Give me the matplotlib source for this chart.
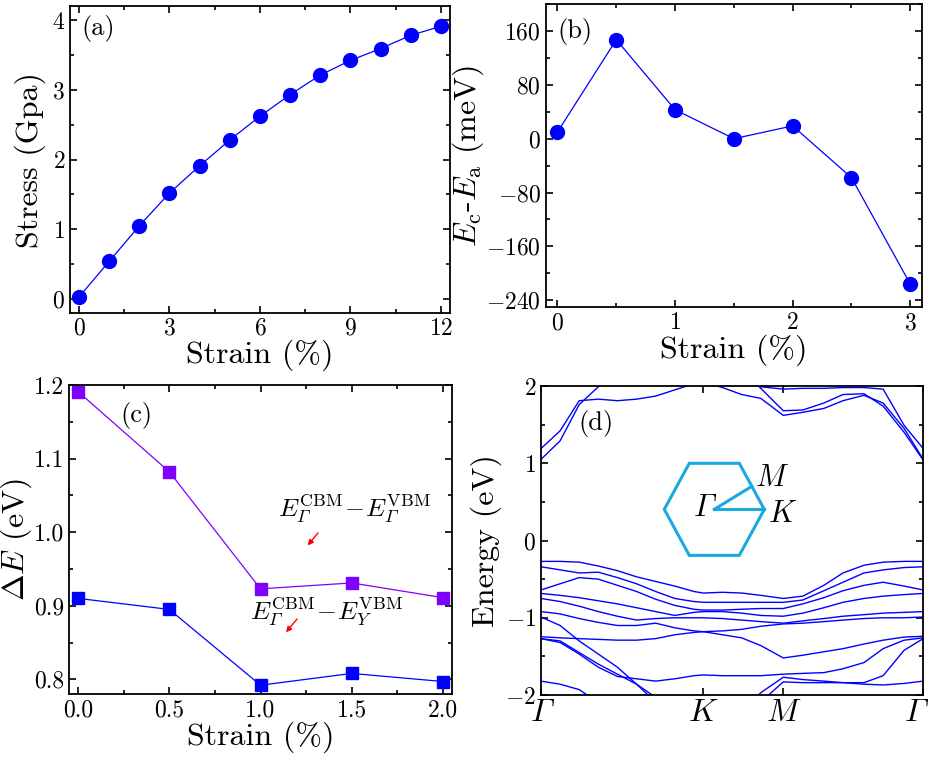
import numpy as np
import matplotlib
matplotlib.use("Agg")
import matplotlib.pyplot as plt
from matplotlib.ticker import MultipleLocator, FormatStrFormatter
from matplotlib.transforms import ScaledTranslation

plt.rcParams['font.family'] = 'serif'
plt.rcParams['font.serif'] = ['cmr10']
plt.rcParams['mathtext.fontset'] = 'cm'
plt.rcParams['axes.formatter.use_mathtext'] = True
plt.rcParams['axes.linewidth'] = 1.3
# custom math set used only for the labels with an italic Gamma
plt.rcParams['mathtext.rm'] = 'cmr10'
plt.rcParams['mathtext.it'] = 'cmmi10'
plt.rcParams['mathtext.cal'] = 'cmmi10'

nan = np.nan
GAMMA_IT = '\u00a1'  # italic capital Gamma slot in the cmmi10 font

# (a) stress vs strain
strain_a = [0, 1, 2, 3, 4, 5, 6, 7, 8, 9, 10, 11, 12]
stress = [0.03, 0.54, 1.05, 1.52, 1.91, 2.28, 2.62, 2.93, 3.21, 3.42, 3.59, 3.78, 3.91]

# (b) energy difference Ec-Ea (meV)
strain_b = [0, 0.5, 1, 1.5, 2, 2.5, 3]
ec_ea = [10, 147, 43, 0, 19, -58, -216]

# (c) gaps
strain_c = [0.0, 0.5, 1.0, 1.5, 2.0]
gap_gg = [1.191, 1.082, 0.923, 0.931, 0.911]
gap_gy = [0.910, 0.895, 0.792, 0.808, 0.797]

# (d) band structure, k as fraction of the path G-K-M-G
k_path = [0.0, 0.05, 0.10, 0.15, 0.20, 0.25, 0.30, 0.35, 0.40, 0.4246, 0.475,
          0.525, 0.575, 0.6338, 0.685, 0.74, 0.79, 0.845, 0.895, 0.95, 1.0]
k_ticks = [0.0, 0.4246, 0.6338, 1.0]
k_labels = [GAMMA_IT, r'$K$', r'$M$', GAMMA_IT]

valence = [
    [-0.27, -0.27, -0.28, -0.33, -0.39, -0.47, -0.53, -0.59, -0.66, -0.68, -0.67, -0.68, -0.71, -0.75, -0.72, -0.58, -0.42, -0.32, -0.28, -0.27, -0.27],
    [-0.34, -0.38, -0.42, -0.41, -0.48, -0.56, -0.66, -0.75, -0.79, -0.80, -0.80, -0.80, -0.80, -0.80, -0.77, -0.65, -0.54, -0.42, -0.38, -0.35, -0.34],
    [-0.64, -0.56, -0.48, -0.50, -0.58, -0.66, -0.76, -0.84, -0.89, -0.90, -0.90, -0.89, -0.88, -0.88, -0.82, -0.74, -0.65, -0.58, -0.54, -0.59, -0.64],
    [-0.685, -0.71, -0.74, -0.78, -0.82, -0.87, -0.92, -0.97, -0.93, -0.92, -0.92, -0.94, -0.97, -0.98, -0.94, -0.87, -0.80, -0.75, -0.72, -0.70, -0.685],
    [-0.75, -0.79, -0.85, -0.92, -0.98, -1.03, -1.01, -1.00, -1.00, -1.00, -1.01, -1.03, -1.05, -1.07, -1.04, -1.01, -0.98, -0.96, -0.94, -0.93, -0.92],
    [-0.92, -0.95, -1.01, -1.06, -1.10, -1.10, -1.07, -1.13, -1.17, -1.18, -1.17, -1.15, -1.11, -1.08, -1.07, -1.05, -1.03, -1.01, -1.00, -1.00, -0.99],
    [-0.99, -1.10, -1.30, -1.47, -1.64, -1.86, -2.09, nan, nan, nan, nan, -2.2, -1.97, -1.77, -1.80, -1.82, -1.84, -1.86, -1.87, -1.85, -1.82],
    [-1.245, -1.26, -1.27, -1.28, -1.29, -1.29, -1.27, -1.22, -1.19, -1.18, -1.22, -1.26, -1.36, -1.52, -1.485, -1.44, -1.40, -1.34, -1.29, -1.25, -1.24],
    [-1.27, -1.32, -1.47, -1.64, -1.76, -1.79, -1.82, -1.79, -1.75, -1.74, -1.75, -1.75, -1.75, -1.73, -1.72, -1.71, -1.66, -1.58, -1.40, -1.29, -1.26],
    [-1.27, -1.30, -1.45, -1.60, -1.73, -1.86, -2.03, nan, nan, nan, nan, nan, -2.09, -1.83, -1.84, -1.84, -1.84, -1.84, -1.75, -1.42, -1.27],
    [-1.82, -1.86, -1.93, -2.10, nan, nan, nan, nan, nan, nan, nan, nan, nan, nan, nan, nan, nan, nan, nan, nan, nan],
]
conduction = [
    [1.05, 1.29, 1.76, 1.99, 2.3, nan, nan, nan, nan, nan, nan, 2.2, 1.97, 1.68, 1.69, 1.78, 1.89, 1.90, 1.74, 1.40, 1.04],
    [1.19, 1.42, 1.81, 1.83, 1.81, 1.83, 1.87, 1.95, 2.03, 2.05, 1.98, 1.89, 1.84, 1.62, 1.66, 1.71, 1.81, 1.88, 1.78, 1.45, 1.05],
    [nan, nan, nan, nan, nan, nan, nan, nan, nan, nan, nan, 2.1, 1.99, 1.96, 1.97, 1.97, 1.98, 1.98, 1.96, 1.49, 1.19],
]

blue = '#0000FF'
purple = '#8000FF'
hexcol = '#1BA8E0'
lab = 23
tk = 17


def style(ax):
    ax.tick_params(which='both', direction='in', top=True, right=True,
                   labelsize=tk, width=1.2)
    ax.tick_params(which='major', length=5)
    ax.tick_params(which='minor', length=3)


fig = plt.figure(figsize=(9.34, 7.59), dpi=100)

# (a)
ax1 = fig.add_axes([0.0749, 0.5876, 0.4069, 0.4045])
ax1.plot(strain_a, stress, '-o', color=blue, lw=0.9, ms=10)
ax1.set_xlim(-0.3, 12.3)
ax1.set_ylim(-0.2, 4.2)
ax1.xaxis.set_major_locator(MultipleLocator(3))
ax1.xaxis.set_minor_locator(MultipleLocator(1.5))
ax1.yaxis.set_major_locator(MultipleLocator(1))
ax1.yaxis.set_minor_locator(MultipleLocator(0.5))
ax1.set_xlabel('Strain (%)', fontsize=lab, labelpad=0)
ax1.set_ylabel('Stress (Gpa)', fontsize=lab, labelpad=4)
ax1.text(0.03, 0.97, '(a)', transform=ax1.transAxes, fontsize=19, ha='left', va='top')
style(ax1)

# (b)
ax2 = fig.add_axes([0.5843, 0.5955, 0.4029, 0.3992])
ax2.plot(strain_b, ec_ea, '-o', color=blue, lw=0.9, ms=10)
ax2.set_xlim(-0.1, 3.1)
ax2.set_ylim(-250, 200)
ax2.xaxis.set_major_locator(MultipleLocator(1))
ax2.xaxis.set_minor_locator(MultipleLocator(0.5))
ax2.yaxis.set_major_locator(MultipleLocator(80))
ax2.yaxis.set_minor_locator(MultipleLocator(40))
ax2.set_xlabel('Strain (%)', fontsize=lab, labelpad=0)
ax2.set_ylabel(r'$E_{\rm c}$-$E_{\rm a}$ (meV)', fontsize=lab, labelpad=0)
ax2.text(0.03, 0.955, '(b)', transform=ax2.transAxes, fontsize=19, ha='left', va='top')
style(ax2)

# (c)
ax3 = fig.add_axes([0.0739, 0.0856, 0.4101, 0.4071])
ax3.plot(strain_c, gap_gg, '-s', color=purple, lw=0.9, ms=9)
ax3.plot(strain_c, gap_gy, '-s', color=blue, lw=0.9, ms=9)
ax3.set_xlim(-0.05, 2.05)
ax3.set_ylim(0.78, 1.2)
ax3.xaxis.set_major_locator(MultipleLocator(0.5))
ax3.xaxis.set_minor_locator(MultipleLocator(0.25))
ax3.yaxis.set_major_locator(MultipleLocator(0.1))
ax3.yaxis.set_minor_locator(MultipleLocator(0.05))
ax3.xaxis.set_major_formatter(FormatStrFormatter('%.1f'))
ax3.yaxis.set_major_formatter(FormatStrFormatter('%.1f'))
ax3.set_xlabel('Strain (%)', fontsize=lab, labelpad=0)
ax3.set_ylabel(r'$\Delta E$ (eV)', fontsize=lab, labelpad=0)
ax3.text(0.135, 0.945, '(c)', transform=ax3.transAxes, fontsize=19, ha='left', va='top')
g = r'\mathcal{' + GAMMA_IT + '}'
ax3.text(1.095, 1.021, r'$E_{%s}^{\mathrm{CBM}}\!-\!E_{%s}^{\mathrm{VBM}}$' % (g, g),
         fontsize=18.5, ha='left', va='baseline', math_fontfamily='custom')
ax3.text(0.94, 0.881, r'$E_{%s}^{\mathrm{CBM}}\!-\!E_{Y}^{\mathrm{VBM}}$' % g,
         fontsize=18.5, ha='left', va='baseline', math_fontfamily='custom')
ax3.annotate('', xy=(1.249, 0.979), xytext=(1.325, 1.002),
             arrowprops=dict(arrowstyle='-|>', color='red', lw=1, mutation_scale=8))
ax3.annotate('', xy=(1.13, 0.861), xytext=(1.21, 0.885),
             arrowprops=dict(arrowstyle='-|>', color='red', lw=1, mutation_scale=8))
style(ax3)

# (d)
ax4 = fig.add_axes([0.5792, 0.0843, 0.4093, 0.4071])
for band in valence + conduction:
    ax4.plot(k_path, band, color=blue, lw=1.0)
ax4.set_xlim(0, 1)
ax4.set_ylim(-2, 2)
style(ax4)
ax4.set_xticks(k_ticks)
ax4.set_xticklabels(k_labels)
ax4.tick_params(axis='x', labelsize=23, pad=3)
xlabels = ax4.get_xticklabels()
for t in xlabels:
    if t.get_text() == GAMMA_IT:
        t.set_fontfamily('cmmi10')
# pull the last Gamma a little inside the figure edge
xlabels[-1].set_transform(xlabels[-1].get_transform()
                          + ScaledTranslation(-6 / 72, 0, fig.dpi_scale_trans))
ax4.yaxis.set_major_locator(MultipleLocator(1))
ax4.yaxis.set_minor_locator(MultipleLocator(0.5))
ax4.set_ylabel('Energy (eV)', fontsize=lab, labelpad=2)
ax4.text(0.097, 0.922, '(d)', transform=ax4.transAxes, fontsize=19, ha='left', va='top')

# Brillouin zone inset
cx, cy, rx, ry = 0.4534, 0.6009, 0.1308, 0.149
ang = np.deg2rad(np.arange(0, 361, 60))
hx = cx + rx * np.cos(ang)
hy = cy + ry * np.sin(ang) / np.sin(np.pi / 3)
ax4.plot(hx, hy, color=hexcol, lw=2.2, transform=ax4.transAxes, solid_joinstyle='miter')
mx, my = (hx[0] + hx[1]) / 2, (hy[0] + hy[1]) / 2
ax4.plot([cx, mx], [cy, my], color=hexcol, lw=2.2, transform=ax4.transAxes)
ax4.plot([cx, hx[0]], [cy, hy[0]], color=hexcol, lw=2.2, transform=ax4.transAxes)
ax4.text(cx - 0.003, cy + 0.005, GAMMA_IT, transform=ax4.transAxes,
         fontsize=22, ha='right', va='center', family='cmmi10')
ax4.text(0.560, 0.70, r'$M$', transform=ax4.transAxes, fontsize=22,
         ha='left', va='center')
ax4.text(0.594, 0.585, r'$K$', transform=ax4.transAxes, fontsize=22,
         ha='left', va='center')

fig.savefig('out.png', dpi=100)
